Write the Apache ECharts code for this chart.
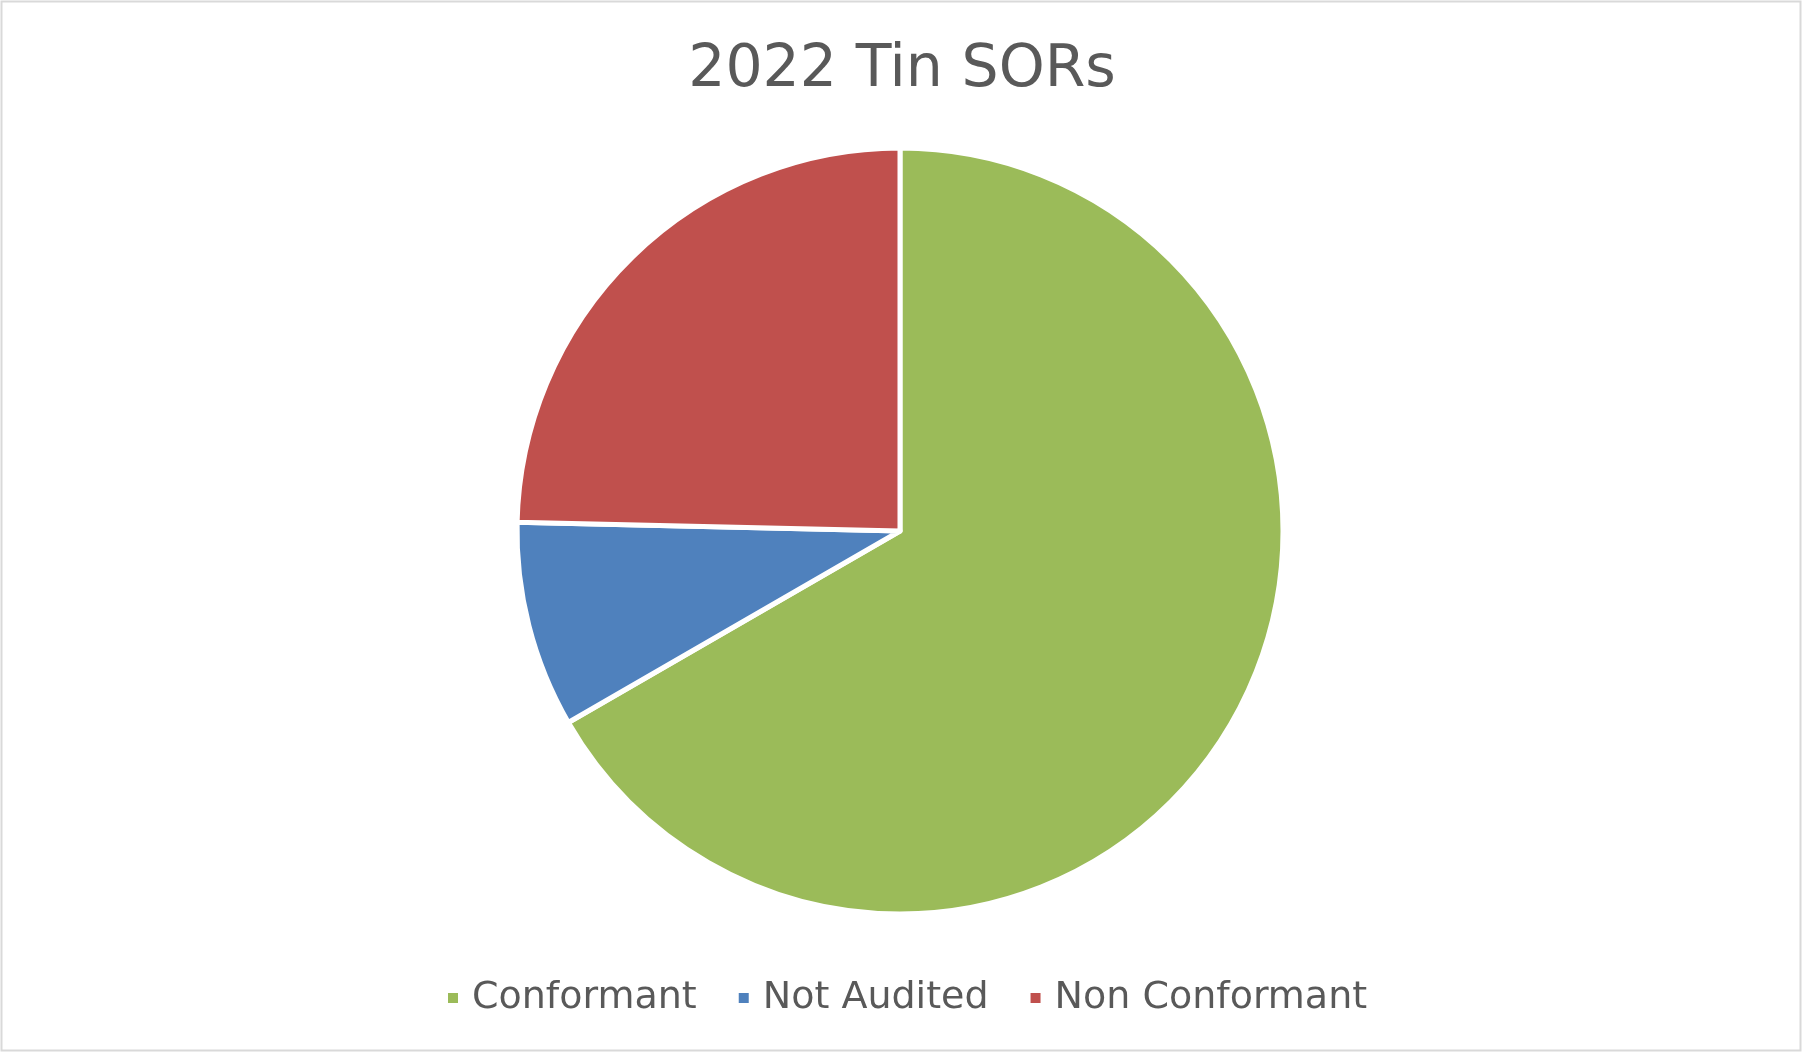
<!DOCTYPE html>
<html>
<head>
<meta charset="utf-8">
<script src="https://cdn.jsdelivr.net/npm/echarts@6/dist/echarts.min.js"></script>
<style>
html,body{margin:0;padding:0;background:#fff;}
#chart{width:1804px;height:1054px;}
</style>
</head>
<body>
<div id="chart"></div>
<script>
const titleText = "2022 Tin SORs";
const categories = ["Conformant", "Not Audited", "Non Conformant"];
const values = [46, 6, 17];
const colors = ["#9BBB59", "#4F81BD", "#C0504D"];

const chart = echarts.init(document.getElementById('chart'), null, {renderer: 'canvas'});
chart.setOption({
  backgroundColor: '#ffffff',
  animation: false,
  title: {
    text: titleText,
    left: 'center',
    top: 36,
    textStyle: {fontFamily: 'DejaVu Sans', fontSize: 58.5, fontWeight: 'normal', color: '#595959'}
  },
  legend: {
    data: categories,
    left: 441,
    top: 974,
    icon: 'rect',
    itemWidth: 12,
    itemHeight: 12,
    itemGap: 40,
    textStyle: {fontFamily: 'DejaVu Sans', fontSize: 38, color: '#595959', padding: [0, 0, 0, 8]}
  },
  graphic: [{
    type: 'rect',
    shape: {x: 1.5, y: 1.5, width: 1799, height: 1049},
    style: {fill: null, stroke: '#d9d9d9', lineWidth: 2},
    silent: true
  }],
  series: [{
    type: 'pie',
    center: [900, 531],
    radius: 383,
    startAngle: 90,
    clockwise: true,
    label: {show: false},
    labelLine: {show: false},
    itemStyle: {borderColor: '#ffffff', borderWidth: 5},
    emphasis: {disabled: true},
    data: categories.map((c, i) => ({name: c, value: values[i], itemStyle: {color: colors[i]}}))
  }]
});
</script>
</body>
</html>
